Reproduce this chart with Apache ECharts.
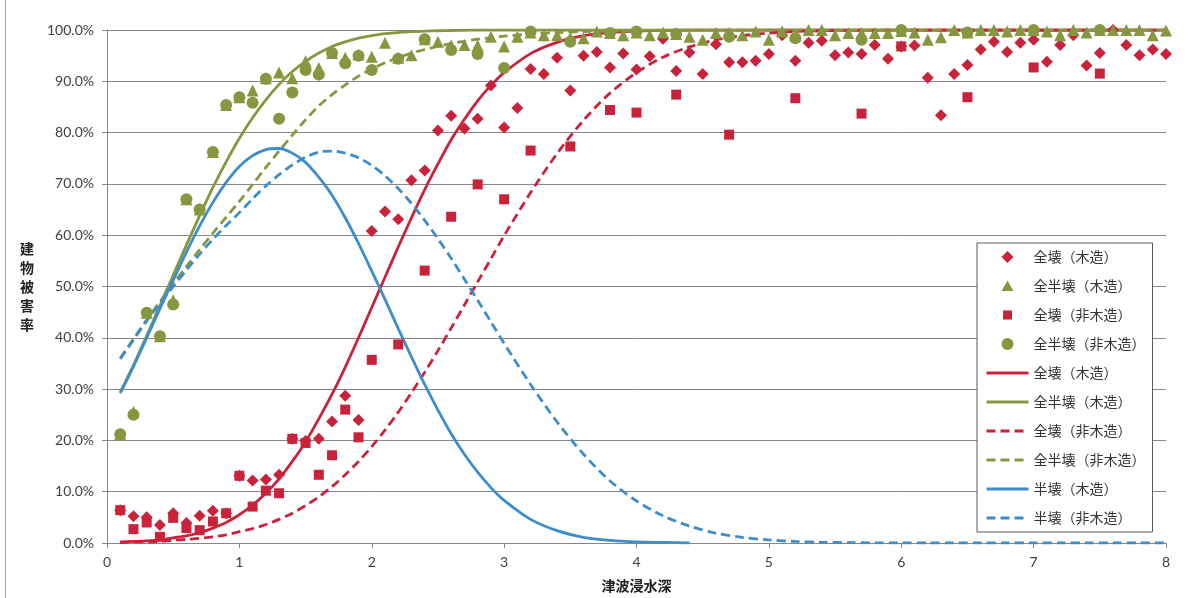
<!DOCTYPE html>
<html><head><meta charset="utf-8">
<script src="https://cdn.jsdelivr.net/npm/echarts@6/dist/echarts.min.js"></script>
<style>html,body{margin:0;padding:0;background:#fff}#c{width:1192px;height:598px}</style>
</head><body><div id="c"></div>
<script>
// ---- curve sample depths (m)
const curveX = [0.1,0.2,0.3,0.4,0.5,0.6,0.7,0.8,0.9,1.0,
  1.1,1.2,1.3,1.4,1.5,1.6,1.7,1.8,1.9,2.0,
  2.1,2.2,2.3,2.4,2.5,2.6,2.7,2.8,2.9,3.0,
  3.2,3.4,3.6,3.8,4.0,4.2,4.4,4.6,4.8,5.0,
  5.2,5.4,5.6,5.8,6.0,6.2,6.4,6.6,6.8,7.0,
  7.2,7.4,7.6,7.8,8.0];
// fitted curves (%)
const curveWoodFull = [0.2,0.3,0.4,0.6,1.0,1.4,2.0,2.9,4.0,5.5,
  7.4,9.7,12.5,15.9,19.7,24.2,29.0,34.3,40.0,45.9,
  51.8,57.7,63.4,68.9,73.9,78.6,82.6,86.2,89.2,91.7,
  95.4,97.6,98.9,99.5,99.8,99.9,100,100,100,100,
  100,100,100,100,100,100,100,100,100,100,
  100,100,100,100,100];
const curveWoodAll = [29.4,34.7,40.4,46.3,52.2,58.1,63.8,69.3,74.3,78.9,
  82.9,86.4,89.4,91.9,93.9,95.5,96.8,97.7,98.4,98.9,
  99.3,99.5,99.7,99.8,99.85,99.9,99.95,100,100,100,
  100,100,100,100,100,100,100,100,100,100,
  100,100,100,100,100,100,100,100,100,100,
  100,100,100,100,100];
const curveWoodHalf = [29.2,34.4,40.0,45.7,51.2,56.7,61.8,66.4,70.3,73.4,
  75.5,76.7,76.9,76.0,74.2,71.3,67.8,63.4,58.4,53.0,
  47.5,41.8,36.3,30.9,25.9,21.3,17.3,13.8,10.8,8.3,
  4.6,2.4,1.1,0.5,0.2,0.1,0.0];
const curveNonWoodFull = [0.1,0.2,0.2,0.3,0.5,0.7,0.9,1.2,1.6,2.2,
  2.8,3.6,4.6,5.8,7.3,9.0,11.0,13.3,15.9,18.8,
  22.0,25.5,29.3,33.3,37.5,41.9,46.4,50.9,55.4,59.9,
  68.3,75.9,82.4,87.7,91.7,94.7,96.7,98.1,98.9,99.4,
  99.7,99.86,99.93,99.97,100,100,100,100,100,100,
  100,100,100,100,100];
const curveNonWoodAll = [36.0,39.8,43.5,47.0,50.5,53.9,57.2,60.4,63.5,66.6,
  69.9,73.2,76.4,79.5,82.5,85.2,87.4,89.3,91.0,92.4,
  93.6,94.6,95.5,96.2,96.8,97.4,97.8,98.2,98.5,98.8,
  99.2,99.5,99.7,99.8,99.9,99.95,100,100,100,100,
  100,100,100,100,100,100,100,100,100,100,
  100,100,100,100,100];
const curveNonWoodHalf = [35.9,39.6,43.3,46.7,50.0,53.2,56.3,59.2,61.9,64.4,
  67.1,69.6,71.8,73.7,75.2,76.2,76.4,76.0,75.1,73.6,
  71.6,69.1,66.2,62.9,59.3,55.5,51.4,47.3,43.1,38.9,
  30.9,23.6,17.3,12.1,8.2,5.3,3.3,1.9,1.1,0.6,
  0.3,0.14,0.07,0.03,0,0,0,0,0,0,
  0,0,0,0,0];

// ---- observed points
const woodX = [0.1,0.2,0.3,0.4,0.5,0.6,0.7,0.8,0.9,1.0,
  1.1,1.2,1.3,1.4,1.5,1.6,1.7,1.8,1.9,2.0,
  2.1,2.2,2.3,2.4,2.5,2.6,2.7,2.8,2.9,3.0,
  3.1,3.2,3.3,3.4,3.5,3.6,3.7,3.8,3.9,4.0,
  4.1,4.2,4.3,4.4,4.5,4.6,4.7,4.8,4.9,5.0,
  5.1,5.2,5.3,5.4,5.5,5.6,5.7,5.8,5.9,6.0,
  6.1,6.2,6.3,6.4,6.5,6.6,6.7,6.8,6.9,7.0,
  7.1,7.2,7.3,7.4,7.5,7.6,7.7,7.8,7.9,8.0];
const woodFull = [6.4,5.2,5.0,3.5,5.8,3.9,5.3,6.3,5.8,13.1,
  12.2,12.4,13.3,20.3,19.9,20.3,23.7,28.7,24.0,60.8,
  64.6,63.1,70.7,72.6,80.4,83.3,80.8,82.7,89.2,81.0,
  84.8,92.4,91.4,94.6,88.2,95.0,95.7,92.7,95.4,92.3,
  94.9,98.3,92.0,95.6,91.4,97.2,93.7,93.7,94.0,95.3,
  99.0,94.0,97.5,97.9,95.1,95.6,95.3,97.1,94.4,96.8,
  97.0,90.7,83.4,91.4,93.2,96.2,97.7,95.7,97.5,98.1,
  93.8,97.1,99.0,93.1,95.5,100,97.1,95.1,96.2,95.3];
const woodAll = [21.2,25.6,44.9,40.3,47.3,67.0,65.0,76.2,85.4,86.9,
  88.2,90.6,91.7,90.6,93.9,92.6,95.5,94.6,95.2,94.8,
  97.5,94.6,95.1,98.2,97.7,97.0,97.1,97.0,98.7,96.8,
  98.7,99.5,99.0,99.0,98.5,98.4,99.7,99.4,99.0,99.5,
  99.0,99.5,99.2,98.7,98.1,99.4,99.4,99.0,99.7,98.1,
  99.7,99.0,100,100,99.0,99.4,99.4,99.4,99.4,99.8,
  99.5,98.1,98.6,100,99.5,100,100,99.7,100,100,
  99.7,99.0,100,99.5,100,100,100,100,99.0,99.9];
const nonWoodX = [0.1,0.2,0.3,0.4,0.5,0.6,0.7,0.8,0.9,1.0,
  1.1,1.2,1.3,1.4,1.5,1.6,1.7,1.8,1.9,2.0,
  2.2,2.4,2.6,2.8,3.0,3.2,3.5,3.8,4.0,4.3,4.7,5.2,5.7,6.0,6.5,7.0,7.5];
const nonWoodFull = [6.4,2.7,4.0,1.2,4.9,2.9,2.5,4.2,5.8,13.1,
  7.1,10.2,9.7,20.3,19.5,13.3,17.1,26.0,20.6,35.7,
  38.7,53.1,63.6,69.9,67.0,76.5,77.3,84.4,83.9,87.4,79.6,86.7,83.7,96.8,86.9,92.7,91.5];
const nonWoodAll = [21.2,25.0,44.9,40.3,46.5,67.0,65.0,76.2,85.4,86.9,
  85.8,90.5,82.7,87.8,92.2,91.3,95.5,93.5,95.0,92.2,
  94.4,98.2,96.1,95.3,92.6,99.7,97.7,99.4,99.7,99.2,98.7,98.4,98.1,100,99.5,100,100];

const xTicks = [0,1,2,3,4,5,6,7,8];

const RED = '#C8233A', GREEN = '#86973F', BLUE = '#3C8DCA';
const zip = (xs, ys) => ys.map((y, i) => [xs[i], y]);
const LS = '#L';

function scatter(name, xs, ys, symbol, size, color) {
  return { name, type: 'scatter', data: zip(xs, ys), symbol, symbolSize: size,
    itemStyle: { color, opacity: 1 }, z: 4, silent: true };
}
function line(name, ys, color, dashed) {
  return { name: name + LS, type: 'line', data: zip(curveX, ys), showSymbol: false, symbol: 'none',
    smooth: 0.3, z: 3, silent: true,
    lineStyle: { color, width: 2.8, type: dashed ? [9, 5] : 'solid' },
    itemStyle: { color } };
}
// legend icons: small marker centred in a 42x14 box
const BOX = 'M0 0L0 0.01ZM42 14L42 13.99Z';
const ICON = {
  diamond: 'path://' + BOX + 'M21 1L27 7L21 13L15 7Z',
  triangle: 'path://' + BOX + 'M21 1.5L27 12L15 12Z',
  square: 'path://' + BOX + 'M16.5 2.5L25.5 2.5L25.5 11.5L16.5 11.5Z',
  circle: 'path://' + BOX + 'M27 7A6 6 0 1 1 15 7A6 6 0 1 1 27 7Z'
};
const lineItem = n => ({ name: n + LS, itemStyle: { opacity: 0 }, lineStyle: { width: 3 } });

const chart = echarts.init(document.getElementById('c'), null, { renderer: 'canvas' });
const lblFont = 'Lato, "Liberation Sans", sans-serif';
const jpFont = '"Noto Sans CJK JP", sans-serif';
chart.setOption({
  animation: false,
  backgroundColor: '#fff',
  grid: { left: 107, right: 26, top: 30, bottom: 53, containLabel: false },
  xAxis: {
    type: 'value', min: 0, max: 8, interval: 1,
    axisLine: { show: true, lineStyle: { color: '#868686', width: 1 } },
    axisTick: { show: true, length: 5, lineStyle: { color: '#868686' } },
    splitLine: { show: false },
    axisLabel: { margin: 12, color: '#404040', fontSize: 14, fontFamily: lblFont,
      formatter: v => String(xTicks[Math.round(v)]) },
    name: '津波浸水深', nameLocation: 'middle', nameGap: 36,
    nameTextStyle: { fontWeight: 'bold', fontSize: 14, color: '#222', fontFamily: jpFont }
  },
  yAxis: {
    type: 'value', min: 0, max: 100, interval: 10,
    axisLine: { show: true, lineStyle: { color: '#868686', width: 1 } },
    axisTick: { show: true, length: 5, lineStyle: { color: '#868686' } },
    splitLine: { show: true, lineStyle: { color: '#878787', width: 1 } },
    axisLabel: { margin: 13, color: '#404040', fontSize: 14, fontFamily: lblFont,
      formatter: v => v.toFixed(1) + '%' }
  },
  legend: {
    orient: 'vertical', left: 977, top: 243,
    padding: [7, 7, 7, 8], itemGap: 15, itemWidth: 42, itemHeight: 14,
    backgroundColor: '#fff', borderColor: '#595959', borderWidth: 1, borderRadius: 0,
    textStyle: { fontSize: 14, lineHeight: 14, color: '#333', fontFamily: jpFont },
    formatter: n => n.replace(LS, ''),
    data: [
      { name: '全壊（木造）', icon: ICON.diamond },
      { name: '全半壊（木造）', icon: ICON.triangle },
      { name: '全壊（非木造）', icon: ICON.square },
      { name: '全半壊（非木造）', icon: ICON.circle },
      lineItem('全壊（木造）'), lineItem('全半壊（木造）'), lineItem('全壊（非木造）'),
      lineItem('全半壊（非木造）'), lineItem('半壊（木造）'), lineItem('半壊（非木造）')
    ]
  },
  graphic: [
    { type: 'line', shape: { x1: 5.5, y1: 0, x2: 5.5, y2: 598 }, style: { stroke: '#a6a6a6', lineWidth: 1 } },
    { type: 'text', x: 27, y: 287, style: { text: '建\n物\n被\n害\n率', align: 'center', verticalAlign: 'middle',
      lineHeight: 19, font: 'bold 14px "Noto Sans CJK JP", sans-serif', fill: '#222' } }
  ],
  series: [
    line('全壊（木造）', curveWoodFull, RED, false),
    line('全半壊（木造）', curveWoodAll, GREEN, false),
    line('全壊（非木造）', curveNonWoodFull, RED, true),
    line('全半壊（非木造）', curveNonWoodAll, GREEN, true),
    line('半壊（木造）', curveWoodHalf, BLUE, false),
    line('半壊（非木造）', curveNonWoodHalf, BLUE, true),
    scatter('全壊（木造）', woodX, woodFull, 'diamond', 12, RED),
    scatter('全半壊（木造）', woodX, woodAll, 'triangle', 12, GREEN),
    scatter('全壊（非木造）', nonWoodX, nonWoodFull, 'rect', 10, RED),
    scatter('全半壊（非木造）', nonWoodX, nonWoodAll, 'circle', 12, GREEN)
  ]
});
</script></body></html>
